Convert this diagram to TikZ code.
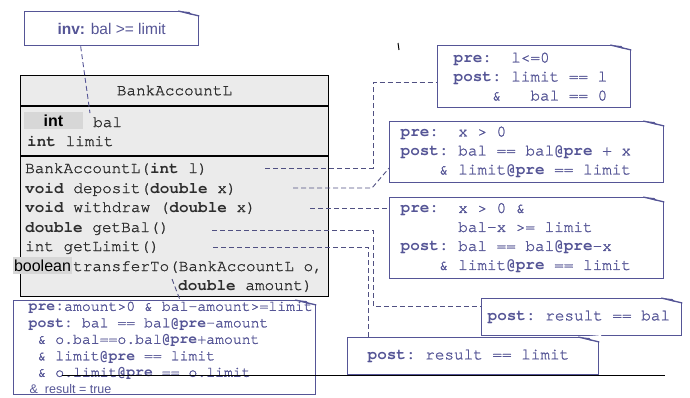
\documentclass[tikz,border=0pt]{standalone}
\usepackage{fontspec}
\setsansfont{Liberation Sans}
\setmonofont{TeX Gyre Cursor}[UprightFeatures={FakeBold=1.2}]
\usetikzlibrary{positioning,calc}

\definecolor{noteblue}{RGB}{85,85,150}
\definecolor{linkblue}{RGB}{80,80,130}
\definecolor{classgray}{RGB}{235,235,235}
\definecolor{hlgray}{RGB}{215,215,215}
\definecolor{classtext}{RGB}{45,45,45}

% typewriter text with fixed spaces
\newcommand{\codefont}[2]{\ttfamily\fontsize{#1}{#2}\selectfont\frenchspacing}

% folded corner of a note
\newcommand{\notefold}[1]{%
  \fill[white] ([xshift=-21pt]#1.north east) -- ([xshift=2pt,yshift=2pt]#1.north east) -- ([yshift=-5pt]#1.north east) -- cycle;
  \draw[noteblue,line width=1.3pt] ([xshift=-21pt]#1.north east) -- ([yshift=-5pt]#1.north east);
  \fill[noteblue] ([xshift=-21pt]#1.north east) -- ([xshift=-10pt,yshift=-1pt]#1.north east) -- ([xshift=-7pt,yshift=-4pt]#1.north east) -- cycle;}

\begin{document}
\begin{tikzpicture}[x=1pt,y=-1pt,
    note/.style={draw=noteblue,line width=1.3pt,fill=white,text=noteblue,anchor=north west,align=left,
      font=\codefont{16}{19},inner ysep=3pt},
    codenote/.style={note,execute at begin node={\spaceskip=0.6em\xspaceskip=0.6em\relax}},
    compart/.style={draw=black,line width=1pt,fill=classgray,anchor=north west,minimum width=308pt,inner sep=0pt},
    member/.style={anchor=base west,inner sep=0pt,text=classtext,font=\codefont{16}{19}},
    hlbox/.style={fill=hlgray,inner sep=0pt,minimum width=59pt,minimum height=17pt,
      font=\sffamily\fontsize{16}{16}\selectfont,text=black},
    link/.style={draw=linkblue,line width=0.9pt,dash pattern=on 5pt off 3pt}]
    \useasboundingbox (0,0) rectangle (690,397);

    % class
    \node[compart,minimum height=30pt](head) at (20,75) {};
    \node[compart,minimum height=49pt](attrs) at (head.south west) {};
    \node[compart,minimum height=140pt](ops) at (attrs.south west) {};
    \node[font=\codefont{16}{19},text=classtext](cname) at (head.center) {BankAccountL};

    \node[hlbox](tint) at (53.5,120.5) {\textbf{int}};
    \node[member](bal) at (93,127) {bal};
    \node[member](limit) at (27,146) {\textbf{int} limit};

    \node[member](mctor) at (25,173) {BankAccountL(\textbf{int} l)};
    \node[member](mdep) at (25,193) {\textbf{void} deposit(\textbf{double} x)};
    \node[member](mwd) at (25,212) {\textbf{void} withdraw (\textbf{double} x)};
    \node[member](mbal) at (25,232) {\textbf{double} getBal()};
    \node[member](mlim) at (25,251) {int getLimit()};
    \node[hlbox](tbool) at (42.5,265.5) {boolean};
    \node[member](mxfer) at (73,271) {transferTo(BankAccountL o,};
    \node[member](mamt) at (178,290) {\textbf{double} amount)};

    % notes
    \node[note,font=\sffamily\fontsize{15.5}{18}\selectfont,minimum width=174pt,minimum height=34pt,align=center,inner sep=0pt,
      execute at begin node={\spaceskip=0pt\xspaceskip=0pt\relax}](inv) at (24,11) {\textbf{inv:} bal >= limit};
    \node[codenote,text width=161pt,inner xsep=16pt,minimum height=62pt](ctor) at (437,45)
      {\textbf{pre:}~~l<=0\\ \textbf{post:} limit == l\\ ~~~~\&~~~bal == 0};
    \node[codenote,text width=252pt,inner xsep=11pt,minimum height=61pt](dep) at (389,121)
      {\textbf{pre:}~~x > 0\\ \textbf{post:} bal == bal\textbf{@pre} + x\\ ~~~~\& limit\textbf{@pre} == limit};
    \node[codenote,text width=252pt,inner xsep=11pt,minimum height=81pt](wd) at (389,197)
      {\textbf{pre:}~~x > 0 \&\\ ~~~~~~bal-x >= limit\\ \textbf{post:} bal == bal\textbf{@pre}-x\\ ~~~~\& limit\textbf{@pre} == limit};
    \node[codenote,text width=188pt,inner xsep=6pt,minimum height=37pt](rbal) at (481,298) {\textbf{post:} result == bal};
    \node[codenote,text width=211pt,inner xsep=20pt,minimum height=37pt](rlim) at (347,337) {\textbf{post:} result == limit};
    \node[codenote,font=\codefont{14.8}{16.5},text width=272pt,inner xsep=15pt,inner ysep=1pt](xfer) at (13,300)
      {\makebox[272pt][l]{\textbf{pre:}amount>0 \& bal-amount>=limit}\\
       \textbf{post:} bal == bal\textbf{@pre}-amount\\
       ~\&~o.bal==o.bal\textbf{@pre}+amount\\
       ~\&~limit\textbf{@pre} == limit\\
       ~\&~o.limit\textbf{@pre} == o.limit\\
       {\sffamily\fontsize{12.5}{15}\selectfont\hspace*{1pt}\&\hspace*{7pt}result\hspace*{3.5pt}=\hspace*{3.5pt}true}};
    \notefold{inv}
    \notefold{ctor}
    \notefold{dep}
    \notefold{wd}
    \notefold{rbal}
    \notefold{rlim}
    \notefold{xfer}

    % links
    \coordinate (cctor) at (265,168);
    \coordinate (cdep) at (293,188);
    \coordinate (cwd) at (310,208);
    \coordinate (cbal) at (212,230);
    \coordinate (clim) at (213,247);
    \coordinate (cxfer) at (172,279);
    \draw[link,draw=noteblue] ([xshift=-31pt]inv.south) -- ([xshift=-3pt,yshift=4pt]bal.north west);
    \draw[link] (cctor) -- ++(108,0) |- ([yshift=-6pt]ctor.west);
    \draw[link] (cdep) -- ++(79,0) -- ([yshift=-16pt]dep.west);
    \draw[link] (cwd) -- (cwd -| wd.west);
    \draw[link] (cbal) -- ++(161,0) |- ([yshift=11pt]rbal.west);
    \draw[link] (clim) -| ([xshift=21pt]rlim.north west);
    \draw[link] (cxfer) -- ([xshift=167pt]xfer.north west);

    \draw[line width=1pt] (62,375) -- (665,375);
    \draw[line width=1pt] (398,43) -- (399,50);
\end{tikzpicture}
\end{document}
